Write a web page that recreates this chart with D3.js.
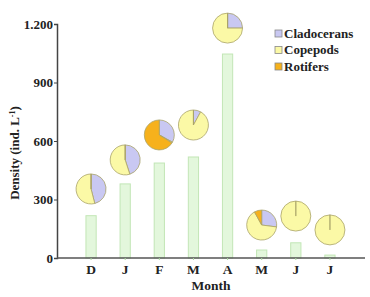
<!DOCTYPE html>
<html>
<head>
<meta charset="utf-8">
<script src="https://cdn.jsdelivr.net/npm/d3@7"></script>
<style>
  body { margin: 0; background: #fff; }
  text { font-family: "Liberation Serif", "DejaVu Serif", serif; font-weight: bold; fill: #222; }
</style>
</head>
<body>
<svg width="370" height="297"></svg>
<script>
// Data
const months = ['D', 'J', 'F', 'M', 'A', 'M', 'J', 'J'];
const density = [217, 380, 487, 518, 1046, 41, 78, 15];
// level (ind. L-1) where each pie is centred
const pieLevel = [354, 503, 631, 682, 1179, 169, 215, 144];
// shares in %, clockwise from 12 o'clock
const cladocerans = [46, 45, 33, 8, 25, 27, 0, 0];
const copepods = [54, 55, 1, 92, 75, 65, 100, 100];
const rotifers = [0, 0, 66, 0, 0, 8, 0, 0];
const groups = ['Cladocerans', 'Copepods', 'Rotifers'];
const yTicks = [0, 300, 600, 900, 1200];

const colors = { Cladocerans: '#c9c8f2', Copepods: '#fbf9a6', Rotifers: '#f6b11c' };

const svg = d3.select('svg');

const x = d3.scaleBand()
  .domain(d3.range(months.length))
  .range([74, 347])
  .paddingInner(0.7)
  .paddingOuter(0.35);

const y = d3.scaleLinear()
  .domain([0, 1200])
  .range([258, 24]);

// Bars
svg.selectAll('.bar')
  .data(density)
  .enter().append('rect')
    .attr('class', 'bar')
    .attr('x', (d, i) => x(i))
    .attr('width', x.bandwidth())
    .attr('y', d => y(d))
    .attr('height', d => y(0) - y(d))
    .attr('fill', '#e3f7dc')
    .attr('stroke', '#c2e6b6')
    .attr('stroke-width', 1);

// Y axis
const yAxis = svg.append('g')
  .attr('transform', 'translate(57,0)')
  .call(d3.axisLeft(y).tickValues(yTicks).tickSize(3)
    .tickFormat(d => d === 1200 ? '1.200' : d));
yAxis.select('.domain').attr('stroke', '#444').attr('stroke-width', 1.5);
yAxis.selectAll('.tick line').attr('stroke', '#444');
yAxis.selectAll('.tick text')
  .attr('font-size', 13)
  .attr('x', -4)
  .style('font-family', '"Liberation Serif", serif')
  .style('font-weight', 'bold');

// X axis
const xAxis = svg.append('g')
  .attr('transform', `translate(0,${y(0)})`)
  .call(d3.axisBottom(x).tickSize(2).tickFormat(i => months[i]));
xAxis.select('.domain')
  .attr('d', 'M57,0H365')
  .attr('stroke', '#555').attr('stroke-width', 1.5);
xAxis.selectAll('.tick line').attr('stroke', '#aad7a0');
xAxis.selectAll('.tick text')
  .attr('font-size', 13.5)
  .attr('y', 6)
  .style('font-family', '"Liberation Serif", serif')
  .style('font-weight', 'bold');

// Pies
const pie = d3.pie().sort(null).value(d => d.value);
const arc = d3.arc().innerRadius(0).outerRadius(15);

months.forEach((m, i) => {
  const shares = [
    { key: 'Cladocerans', value: cladocerans[i] },
    { key: 'Copepods', value: copepods[i] },
    { key: 'Rotifers', value: rotifers[i] }
  ];
  const g = svg.append('g')
    .attr('transform', `translate(${x(i) + x.bandwidth() / 2},${y(pieLevel[i])})`);
  g.selectAll('path')
    .data(pie(shares))
    .enter().append('path')
      .attr('d', arc)
      .attr('fill', d => colors[d.data.key])
      .attr('stroke', '#a9a36a')
      .attr('stroke-width', 0.8);
});

// Legend
const legend = svg.append('g').attr('transform', 'translate(275,30)');
groups.forEach((gname, i) => {
  const row = legend.append('g').attr('transform', `translate(0,${i * 16.5})`);
  row.append('rect')
    .attr('x', 0).attr('y', 0).attr('width', 7).attr('height', 7)
    .attr('fill', colors[gname])
    .attr('stroke', '#888').attr('stroke-width', 0.8);
  row.append('text')
    .attr('x', 9).attr('y', 7.5)
    .attr('font-size', 13)
    .text(gname);
});

// Axis titles
svg.append('text')
  .attr('transform', 'translate(19,153) rotate(-90)')
  .attr('text-anchor', 'middle')
  .attr('font-size', 13)
  .html('Density (ind. L<tspan dy="-4" font-size="8">-1</tspan><tspan dy="4">)</tspan>');

svg.append('text')
  .attr('x', 211).attr('y', 290)
  .attr('text-anchor', 'middle')
  .attr('font-size', 13.5)
  .text('Month');
</script>
</body>
</html>
